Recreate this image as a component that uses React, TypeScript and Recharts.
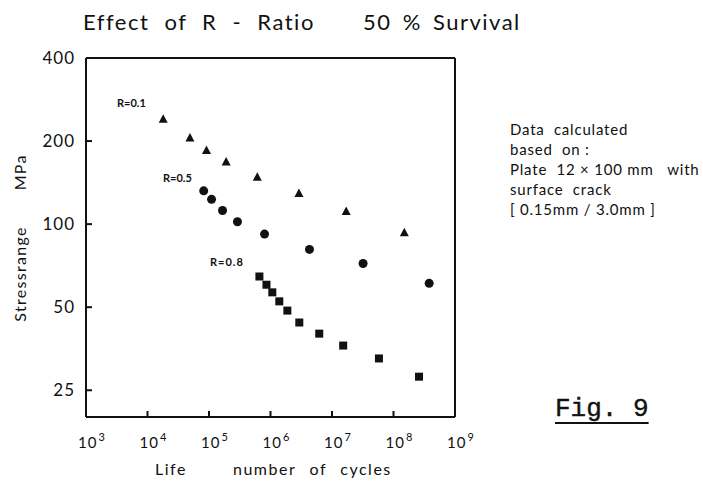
import React from 'react';
import { ScatterChart, Scatter, XAxis, YAxis } from 'recharts';

const FONT = 'Lato, "DejaVu Sans", sans-serif';
const INK = '#111';

// life (cycles) and stress range (MPa)
const r01Life = [1.8e4, 4.9e4, 9.1e4, 1.9e5, 6.1e5, 2.9e6, 1.7e7, 1.5e8];
const r01Stress = [240, 205, 185, 168, 148, 129, 111, 93];

const r05Life = [8.2e4, 1.1e5, 1.66e5, 2.9e5, 8.0e5, 4.3e6, 3.2e7, 3.8e8];
const r05Stress = [132, 123, 112, 102, 92, 81, 72, 61];

const r08Life = [6.6e5, 8.6e5, 1.07e6, 1.39e6, 1.88e6, 2.94e6, 6.2e6, 1.52e7, 5.8e7, 2.6e8];
const r08Stress = [64.6, 60.3, 56.6, 52.5, 48.6, 44.0, 40.1, 36.3, 32.6, 28.0];

const lifeTicks = [1e3, 1e4, 1e5, 1e6, 1e7, 1e8, 1e9];
const stressTicks = [25, 50, 100, 200, 400];

const noteLines = [
  'Data  calculated',
  'based  on :',
  'Plate  12 × 100 mm   with',
  'surface  crack',
  '[ 0.15mm / 3.0mm ]',
];

const toPoints = (life: number[], stress: number[]) =>
  life.map((n, i) => ({ life: n, stress: stress[i] }));

function PowerTick({ x, y, payload }: any) {
  const exp = Math.round(Math.log10(payload.value));
  return (
    <text x={x - 8} y={y} fontSize={15} fontFamily={FONT} fill={INK} letterSpacing={1}>
      10
      <tspan dx={1} dy={-7} fontSize={11}>
        {exp}
      </tspan>
    </text>
  );
}

const Triangle = ({ cx, cy }: any) => (
  <polygon points={`${cx},${cy - 5} ${cx - 4.5},${cy + 3.5} ${cx + 4.5},${cy + 3.5}`} fill={INK} />
);
const Dot = ({ cx, cy }: any) => <circle cx={cx} cy={cy} r={4.5} fill={INK} />;
const Square = ({ cx, cy }: any) => <rect x={cx - 4} y={cy - 4} width={8} height={8} fill={INK} />;

const abs = (left: number, top: number, extra: React.CSSProperties = {}): React.CSSProperties => ({
  position: 'absolute',
  left,
  top,
  fontFamily: FONT,
  color: INK,
  whiteSpace: 'pre',
  lineHeight: 1,
  ...extra,
});

export default function App() {
  return (
    <div style={{ position: 'absolute', left: 0, top: 0, width: 703, height: 481, background: '#fff' }}>
      <ScatterChart width={703} height={481} margin={{ top: 56, right: 246, bottom: 34, left: 26 }}>
        <XAxis
          dataKey="life"
          type="number"
          scale="log"
          domain={[1e3, 1e9]}
          ticks={lifeTicks}
          interval={0}
          allowDataOverflow
          tick={<PowerTick />}
          tickSize={-6}
          tickMargin={37}
          height={30}
          stroke={INK}
          strokeWidth={2}
        />
        <XAxis
          xAxisId="top"
          orientation="top"
          type="number"
          scale="log"
          domain={[1e3, 1e9]}
          ticks={lifeTicks}
          interval={0}
          allowDataOverflow
          tick={false}
          tickSize={-6}
          height={2}
          stroke={INK}
          strokeWidth={2}
        />
        <YAxis
          dataKey="stress"
          type="number"
          scale="log"
          domain={[20, 400]}
          ticks={stressTicks}
          interval={0}
          allowDataOverflow
          tick={{ fill: INK, fontSize: 17, fontFamily: FONT, letterSpacing: 1 }}
          tickSize={-6}
          tickMargin={17}
          width={60}
          stroke={INK}
          strokeWidth={2}
        />
        <YAxis
          yAxisId="right"
          orientation="right"
          type="number"
          scale="log"
          domain={[20, 400]}
          ticks={stressTicks}
          interval={0}
          allowDataOverflow
          tick={false}
          tickSize={-6}
          width={2}
          stroke={INK}
          strokeWidth={2}
        />
        <Scatter data={toPoints(r01Life, r01Stress)} shape={<Triangle />} isAnimationActive={false} />
        <Scatter data={toPoints(r05Life, r05Stress)} shape={<Dot />} isAnimationActive={false} />
        <Scatter data={toPoints(r08Life, r08Stress)} shape={<Square />} isAnimationActive={false} />
      </ScatterChart>

      <div style={abs(83, 11, { fontSize: 22, letterSpacing: 1.5, wordSpacing: 8 })}>Effect of R - Ratio</div>
      <div style={abs(363, 11, { fontSize: 22, letterSpacing: 1.5, wordSpacing: 4 })}>50 % Survival</div>

      <div style={abs(117, 97, { fontSize: 11, fontWeight: 700 })}>R=0.1</div>
      <div style={abs(163, 172, { fontSize: 11, fontWeight: 700 })}>R=0.5</div>
      <div style={abs(210, 256, { fontSize: 11, fontWeight: 700, letterSpacing: 1 })}>R=0.8</div>

      <div
        style={abs(20, 238, {
          fontSize: 16,
          letterSpacing: 1.3,
          transform: 'translate(-50%, -50%) rotate(-90deg)',
        })}
      >
        Stressrange<span style={{ display: 'inline-block', width: 36 }} />MPa
      </div>

      <div style={abs(155, 461, { fontSize: 16, letterSpacing: 1.5 })}>Life</div>
      <div style={abs(233, 461, { fontSize: 16, letterSpacing: 1.5, wordSpacing: 8 })}>number of cycles</div>

      <div style={{ position: 'absolute', left: 510, top: 121 }}>
        {noteLines.map((line) => (
          <div
            key={line}
            style={{
              fontFamily: FONT,
              fontSize: 15,
              letterSpacing: 0.8,
              color: INK,
              height: 20,
              lineHeight: '17px',
              whiteSpace: 'pre',
            }}
          >
            {line}
          </div>
        ))}
      </div>

      <div
        style={abs(555, 396, {
          fontFamily: '"Liberation Mono", monospace',
          fontSize: 26,
          textDecoration: 'underline',
          textUnderlineOffset: 6,
          textDecorationThickness: 2,
          WebkitTextStroke: '0.4px #111',
        })}
      >
        Fig. 9
      </div>
    </div>
  );
}
